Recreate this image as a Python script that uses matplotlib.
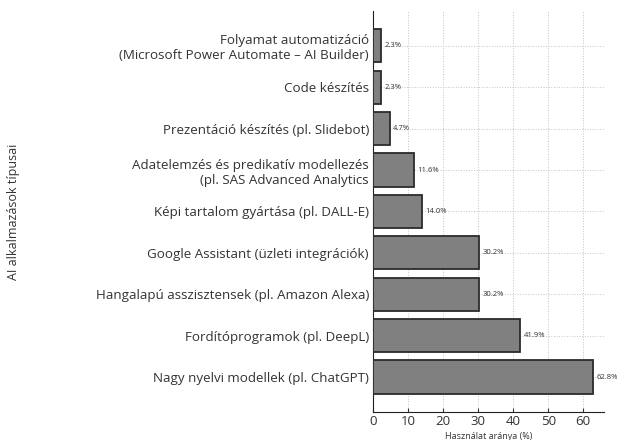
import matplotlib
matplotlib.use("Agg")
import matplotlib.pyplot as plt

# data, bottom bar first
categories = [
    "Nagy nyelvi modellek (pl. ChatGPT)",
    "Fordítóprogramok (pl. DeepL)",
    "Hangalapú asszisztensek (pl. Amazon Alexa)",
    "Google Assistant (üzleti integrációk)",
    "Képi tartalom gyártása (pl. DALL-E)",
    "Adatelemzés és predikatív modellezés\n(pl. SAS Advanced Analytics",
    "Prezentáció készítés (pl. Slidebot)",
    "Code készítés",
    "Folyamat automatizáció\n(Microsoft Power Automate – AI Builder)",
]
values = [62.8, 41.9, 30.2, 30.2, 14.0, 11.6, 4.7, 2.3, 2.3]
x_ticks = [0, 10, 20, 30, 40, 50, 60]

plt.rcParams["font.family"] = ["Open Sans", "DejaVu Sans"]

fig = plt.figure(figsize=(6.26, 4.4), dpi=100)
ax = fig.add_axes([0.596, 0.064, 0.369, 0.911])

ypos = range(len(categories))
bars = ax.barh(ypos, values, height=0.8, color="#808080",
               edgecolor="#2b2b2b", linewidth=1.3, zorder=3)

for y, v in zip(ypos, values):
    ax.text(v + 1.0, y, f"{v:.1f}%", va="center", ha="left",
            fontsize=5.5, color="#333333", zorder=4)

ax.set_yticks(list(ypos))
ax.set_yticklabels(categories, fontsize=9.6, color="#333333")
ax.set_xticks(x_ticks)
ax.tick_params(axis="x", labelsize=9.5, colors="#333333", direction="in",
               length=3, pad=2)
ax.tick_params(axis="y", direction="in", length=3, pad=3)

ax.grid(True, linestyle=":", color="#c4c4c4", linewidth=0.7, zorder=0)
ax.spines["top"].set_visible(False)
ax.spines["right"].set_visible(False)
ax.spines["left"].set_color("#222222")
ax.spines["bottom"].set_color("#222222")

ax.set_xlabel("Használat aránya (%)", fontsize=6.5, color="#333333", labelpad=3)
fig.text(0.021, 0.518, "AI alkalmazások típusai", rotation=90, fontsize=9,
         color="#333333", va="center", ha="center")

fig.savefig("out.png", dpi=100)
